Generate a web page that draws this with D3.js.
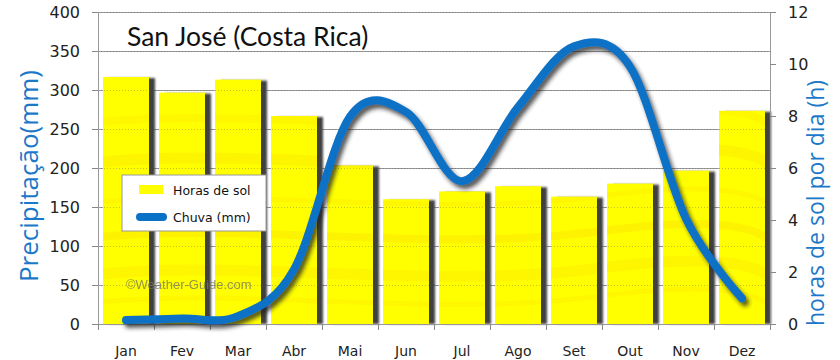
<!DOCTYPE html>
<html><head><meta charset="utf-8">
<script src="https://cdn.jsdelivr.net/npm/d3@7"></script>
<style>body{margin:0;background:#fff}svg{display:block}</style>
</head><body>
<script>
const months = ["Jan","Fev","Mar","Abr","Mai","Jun","Jul","Ago","Set","Out","Nov","Dez"];
const sunHours = [9.5, 8.9, 9.4, 8.0, 6.1, 4.8, 5.1, 5.3, 4.9, 5.4, 5.9, 8.2];
const rainMm = [5, 7, 10, 70, 266, 272, 183, 278, 356, 330, 135, 33];
const leftTicks = [0,50,100,150,200,250,300,350,400];
const rightTicks = [0,2,4,6,8,10,12];
const title = "San José (Costa Rica)";
const leftLabel = "Precipitação(mm)";
const rightLabel = "horas de sol por dia (h)";
const legendSun = "Horas de sol";
const legendRain = "Chuva (mm)";
const watermark = "©Weather-Guide.com";

const W=840,H=360, m={l:98,r:70,t:12,b:36};
const pw=W-m.l-m.r, ph=H-m.t-m.b;
const svg=d3.select("body").append("svg").attr("width",W).attr("height",H);
const defs=svg.append("defs");
const pat=defs.append("pattern").attr("id","tex").attr("patternUnits","userSpaceOnUse")
  .attr("x",m.l).attr("y",m.t).attr("width",pw).attr("height",ph);
pat.append("rect").attr("width",pw).attr("height",ph).attr("fill","#ffff00");
const streaks=[[0,60,0.35],[0,110,0.3],[0,150,0.4],[0,190,0.3],[0,225,0.45],[0,262,0.35],[0,290,0.3],[0,35,0.2]];
streaks.forEach(([x,y,o],i)=>{
  pat.append("path").attr("d",`M0,${y} C${pw*0.25},${y-14} ${pw*0.5},${y+16} ${pw*0.75},${y-6} S${pw},${y+10} ${pw},${y+4}`)
   .attr("fill","none").attr("stroke","#f5c400").attr("stroke-width",5+(i%3)*3).attr("opacity",o*0.45);
});
const sh=defs.append("filter").attr("id","shadow").attr("x","-10%").attr("y","-10%").attr("width","130%").attr("height","130%");
sh.append("feDropShadow").attr("dx",3).attr("dy",4).attr("stdDeviation",2).attr("flood-color","#222").attr("flood-opacity",0.75);
const bsh=defs.append("filter").attr("id","bsh");
bsh.append("feGaussianBlur").attr("stdDeviation",0.8);

const x=d3.scaleBand().domain(months).range([m.l,m.l+pw]).padding(0);
const yL=d3.scaleLinear().domain([0,400]).range([m.t+ph,m.t]);
const yR=d3.scaleLinear().domain([0,12]).range([m.t+ph,m.t]);

svg.append("g").selectAll("line").data(leftTicks).join("line")
  .attr("x1",m.l).attr("x2",m.l+pw).attr("y1",d=>yL(d)).attr("y2",d=>yL(d))
  .attr("stroke","#9a9a9a").attr("stroke-width",1).attr("shape-rendering","crispEdges");

const bw=46;
const bars=svg.append("g");
bars.selectAll(".s").data(months).join("rect").attr("class","s")
  .attr("x",d=>x(d)+5+6).attr("y",(d,i)=>yR(sunHours[i])+1).attr("width",bw)
  .attr("height",(d,i)=>yR(0)-yR(sunHours[i])-1).attr("fill","#404040").attr("filter","url(#bsh)");
bars.selectAll(".b").data(months).join("rect").attr("class","b")
  .attr("x",d=>x(d)+5).attr("y",(d,i)=>yR(sunHours[i])).attr("width",bw)
  .attr("height",(d,i)=>yR(0)-yR(sunHours[i])).attr("fill","url(#tex)");
svg.append("g").selectAll("line").data(leftTicks.slice(1)).join("line")
  .attr("x1",m.l).attr("x2",m.l+pw).attr("y1",d=>yL(d)).attr("y2",d=>yL(d))
  .attr("stroke","#555").attr("stroke-width",1).attr("stroke-dasharray","1,2").attr("opacity",0.35).attr("shape-rendering","crispEdges");

const axL=svg.append("g").attr("transform",`translate(${m.l},0)`)
  .call(d3.axisLeft(yL).tickValues(leftTicks).tickSize(6).tickPadding(12));
const axR=svg.append("g").attr("transform",`translate(${m.l+pw},0)`)
  .call(d3.axisRight(yR).tickValues(rightTicks).tickSize(6).tickPadding(12));
const axB=svg.append("g").attr("transform",`translate(0,${m.t+ph})`)
  .call(d3.axisBottom(x).tickSize(0).tickPadding(22));
svg.append("g").selectAll("line").data(d3.range(13)).join("line")
  .attr("x1",i=>m.l+i*x.step()).attr("x2",i=>m.l+i*x.step()).attr("y1",m.t+ph).attr("y2",m.t+ph+6)
  .attr("stroke","#888").attr("shape-rendering","crispEdges");
[axL,axR,axB].forEach(a=>{
  a.select(".domain").attr("stroke","#999");
  a.selectAll(".tick line").attr("stroke","#888");
  a.selectAll("text").attr("font-family","DejaVu Sans").attr("fill","#222");
});
axL.selectAll("text").attr("font-size",16);
axR.selectAll("text").attr("font-size",16);
axB.selectAll("text").attr("font-size",14);

const line=d3.line().x((d,i)=>x(months[i])+x.bandwidth()/2).y(d=>yL(d)).curve(d3.curveCardinal.tension(0));
svg.append("path").datum(rainMm).attr("d",line).attr("fill","none")
  .attr("stroke","#0a72c6").attr("stroke-width",8).attr("stroke-linecap","round").attr("filter","url(#shadow)");

svg.append("text").attr("x",127).attr("y",46).text(title)
  .attr("font-family","Lato").attr("font-size",26.5).attr("fill","#111");

svg.append("text").attr("transform",`translate(38,176) rotate(-90)`).attr("text-anchor","middle")
  .text(leftLabel).attr("font-family","Open Sans").attr("font-size",26).attr("fill","#1c78c8");
svg.append("text").attr("transform",`translate(824,203) rotate(-90)`).attr("text-anchor","middle")
  .text(rightLabel).attr("font-family","Open Sans").attr("font-size",23).attr("fill","#1c78c8");

svg.append("text").attr("x",126).attr("y",289).text(watermark)
  .attr("font-family","Liberation Sans").attr("font-size",13).attr("fill","#7a7a60").attr("opacity",0.8);

const lg=svg.append("g");
lg.append("rect").attr("x",122).attr("y",175).attr("width",144).attr("height",56)
  .attr("fill","#fff").attr("stroke","#999");
lg.append("rect").attr("x",139).attr("y",185).attr("width",24).attr("height",9).attr("fill","url(#tex)");
lg.append("line").attr("x1",140).attr("x2",163).attr("y1",217).attr("y2",217)
  .attr("stroke","#0a72c6").attr("stroke-width",8).attr("stroke-linecap","round");
lg.append("text").attr("x",173).attr("y",195).text(legendSun).attr("font-family","DejaVu Sans").attr("font-size",12.5).attr("fill","#111");
lg.append("text").attr("x",173).attr("y",222).text(legendRain).attr("font-family","DejaVu Sans").attr("font-size",12.5).attr("fill","#111");
</script>
</body></html>
